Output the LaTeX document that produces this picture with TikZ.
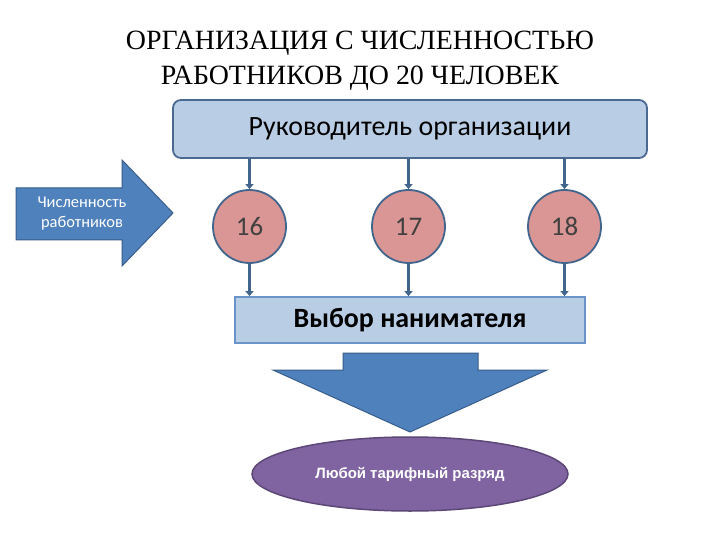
\documentclass[tikz,border=0pt]{standalone}
\usepackage{fontspec}
\setmainfont{Carlito}
\newfontfamily\titlefont{Liberation Serif}
\newfontfamily\arialfont{Liberation Sans}
\usetikzlibrary{shapes.geometric,arrows.meta}
\definecolor{boxfill}{HTML}{B9CDE5}
\definecolor{boxline}{HTML}{4A6A92}
\definecolor{circfill}{HTML}{D99694}
\definecolor{conn}{HTML}{41658D}
\definecolor{arrfill}{HTML}{4F81BD}
\definecolor{arrline}{HTML}{385D8A}
\definecolor{purp}{HTML}{8064A2}
\definecolor{purpline}{HTML}{5C4776}
\tikzset{
  numcirc/.style={circle,draw=conn,line width=1.8bp,fill=circfill,minimum size=73bp,inner sep=0pt,font=\fontsize{27}{30}\selectfont,text=black!75},
  conline/.style={draw=conn,line width=3.5bp,-{Triangle[length=5bp,width=8bp]}},
  bigarrow/.style={fill=arrfill,draw=arrline,line width=1bp,line join=miter}
}
\begin{document}
\begin{tikzpicture}[x=1bp,y=-1bp]
\useasboundingbox (0,0) rectangle (720,540);
\fill[white] (0,0) rectangle (720,540);
% title
\node[font=\titlefont\fontsize{28}{35}\selectfont,align=center] (title) at (360,61) {ОРГАНИЗАЦИЯ С ЧИСЛЕННОСТЬЮ\\РАБОТНИКОВ ДО 20 ЧЕЛОВЕК};
% top box
\node[draw=boxline,line width=1.8bp,fill=boxfill,rounded corners=8bp,minimum width=474bp,minimum height=58bp,inner sep=0pt,font=\fontsize{28}{32}\selectfont] (boss) at (410,129) {Руководитель организации};
% left arrow
\draw[bigarrow] (16,188) -- (122,188) -- (122,160) -- (173,213) -- (122,266) -- (122,240) -- (16,240) -- cycle;
\node[font=\fontsize{16.5}{20}\selectfont,text=white,align=center] (num) at (82,214) {Численность\\работников};
% circles
\node[numcirc] (c16) at (249.5,226.5) {16};
\node[numcirc] (c17) at (408.5,226.5) {17};
\node[numcirc] (c18) at (564.5,226.5) {18};
% bottom box
\node[draw=arrfill!85,line width=1.8bp,fill=boxfill,minimum width=350bp,minimum height=46bp,inner sep=0pt,font=\bfseries\fontsize{28}{32}\selectfont] (choice) at (410,320) {Выбор нанимателя};
% connectors
\draw[conline] (boss.south -| c16) -- (c16.north);
\draw[conline] (boss.south -| c17) -- (c17.north);
\draw[conline] (boss.south -| c18) -- (c18.north);
\draw[conline] (c16.south) -- (choice.north -| c16);
\draw[conline] (c17.south) -- (choice.north -| c17);
\draw[conline] (c18.south) -- (choice.north -| c18);
% down arrow
\draw[bigarrow] (343,353) -- (478,353) -- (478,370) -- (547,370) -- (410,432) -- (273,370) -- (343,370) -- cycle;
% ellipse
\node[ellipse,draw=purpline,line width=1.5bp,fill=purp,minimum width=316bp,minimum height=74bp,inner sep=0pt,text=white,font=\arialfont\bfseries\fontsize{15}{18}\selectfont] (any) at (410,474) {Любой тарифный разряд};
\end{tikzpicture}
\end{document}
